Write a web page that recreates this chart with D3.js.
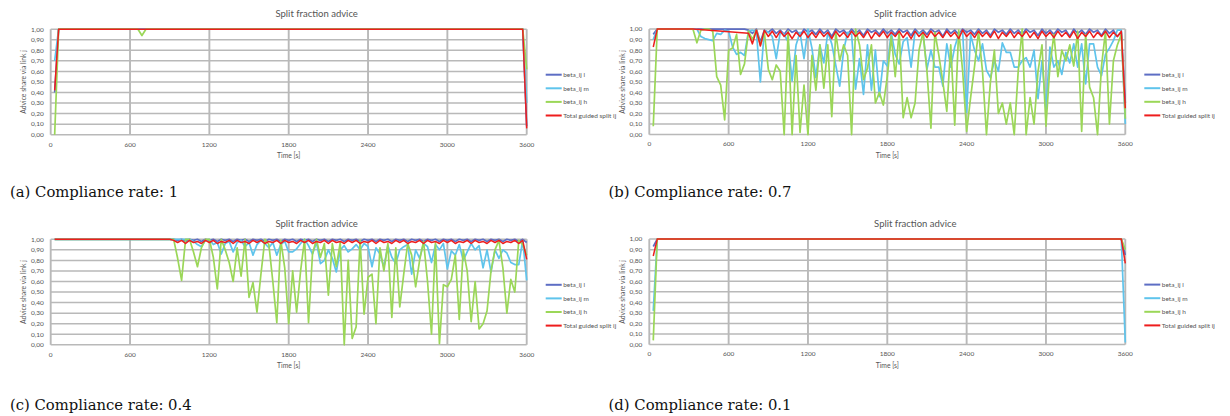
<!DOCTYPE html>
<html>
<head>
<meta charset="utf-8">
<script src="https://cdn.jsdelivr.net/npm/d3@7"></script>
<style>
  body { margin: 0; background: #fff; }
  svg { display: block; }
  .chart-text { font-family: Lato, "Liberation Sans", sans-serif; fill: #555; }
  .caption { font-family: "DejaVu Serif", serif; fill: #111; }
</style>
</head>
<body>
<svg id="fig" width="1230" height="416"></svg>
<script>
// axis ticks and labels
const X_TICKS = [0, 600, 1200, 1800, 2400, 3000, 3600];
const Y_TICKS = [0, 0.1, 0.2, 0.3, 0.4, 0.5, 0.6, 0.7, 0.8, 0.9, 1.0];
const SERIES_NAMES = ["beta_ij l", "beta_ij m", "beta_ij h", "Total guided split ij"];
const CAPTIONS = ["(a) Compliance rate: 1", "(b) Compliance rate: 0.7", "(c) Compliance rate: 0.4", "(d) Compliance rate: 0.1"];

// time stamps [s] of the 30 s simulation steps (panels b and c)
const TIME = [
  30, 60, 90, 120, 150, 180, 210, 240, 270, 300,
  330, 360, 390, 420, 450, 480, 510, 540, 570, 600,
  630, 660, 690, 720, 750, 780, 810, 840, 870, 900,
  930, 960, 990, 1020, 1050, 1080, 1110, 1140, 1170, 1200,
  1230, 1260, 1290, 1320, 1350, 1380, 1410, 1440, 1470, 1500,
  1530, 1560, 1590, 1620, 1650, 1680, 1710, 1740, 1770, 1800,
  1830, 1860, 1890, 1920, 1950, 1980, 2010, 2040, 2070, 2100,
  2130, 2160, 2190, 2220, 2250, 2280, 2310, 2340, 2370, 2400,
  2430, 2460, 2490, 2520, 2550, 2580, 2610, 2640, 2670, 2700,
  2730, 2760, 2790, 2820, 2850, 2880, 2910, 2940, 2970, 3000,
  3030, 3060, 3090, 3120, 3150, 3180, 3210, 3240, 3270, 3300,
  3330, 3360, 3390, 3420, 3450, 3480, 3510, 3540, 3570, 3600
];

// (a) compliance 1: only the points where something changes
const TIME_A = [30, 60, 660, 690, 720, 3570, 3600];
const L_A = [0.40, 1, 1, 1, 1, 1, 0.08];
const M_A = [0.70, 1, 1, 1, 1, 1, 0.30];
const H_A = [0.00, 1, 1, 0.94, 1, 1, 0.62];
const TOT_A = [0.42, 1, 1, 1, 1, 1, 0.06];

// (b) compliance 0.7
const L_B = [
  0.95, 1, 1, 1, 1, 1, 1, 1, 1, 1,
  1, 1, 1, 1, 1, 1, 1, 1, 1, 1,
  1, 1, 1, 1, 0.99, 0.96, 1.00, 0.88, 0.99, 0.97,
  1.00, 0.96, 0.99, 0.95, 1.00, 0.97, 0.99, 0.94, 1.00, 0.97,
  0.99, 0.95, 1.00, 0.96, 0.99, 0.93, 1.00, 0.97, 0.99, 0.95,
  1.00, 0.96, 0.99, 0.94, 1.00, 0.97, 0.99, 0.95, 1.00, 0.96,
  0.99, 0.95, 1.00, 0.97, 0.99, 0.94, 1.00, 0.96, 0.99, 0.95,
  1.00, 0.97, 0.99, 0.93, 1.00, 0.96, 0.99, 0.95, 1.00, 0.97,
  0.99, 0.95, 1.00, 0.96, 0.99, 0.94, 1.00, 0.97, 0.99, 0.95,
  1.00, 0.96, 0.99, 0.95, 1.00, 0.97, 0.99, 0.94, 1.00, 0.96,
  0.99, 0.95, 1.00, 0.97, 0.99, 0.93, 1.00, 0.96, 0.99, 0.95,
  1.00, 0.97, 0.99, 0.94, 1.00, 0.96, 0.99, 0.93, 0.97, 0.30
];
const M_B = [
  0.90, 1, 1, 1, 1, 1, 1, 1, 1, 1,
  1, 1, 0.93, 0.91, 0.90, 0.89, 0.96, 0.95, 0.99, 0.98,
  0.83, 0.76, 0.78, 0.75, 0.98, 0.99, 0.97, 0.50, 0.99, 0.97,
  0.93, 0.72, 0.97, 0.95, 0.88, 0.51, 0.85, 0.97, 0.72, 1.00,
  0.82, 0.54, 0.85, 0.68, 0.97, 0.86, 0.66, 0.46, 0.80, 0.97,
  0.95, 0.43, 0.72, 0.38, 0.85, 0.42, 0.80, 0.36, 0.70, 0.65,
  0.97, 0.76, 0.67, 0.88, 0.92, 0.64, 0.98, 0.96, 0.97, 0.62,
  0.80, 0.64, 0.64, 0.46, 0.86, 0.64, 0.83, 0.95, 0.98, 0.21,
  0.95, 0.80, 0.70, 0.86, 0.61, 0.54, 0.70, 0.60, 0.87, 0.78,
  0.78, 0.64, 0.64, 0.70, 0.73, 0.64, 0.80, 0.34, 0.70, 0.24,
  0.83, 0.64, 0.70, 0.57, 0.78, 0.68, 0.86, 0.64, 0.86, 0.48,
  0.86, 0.86, 0.64, 0.56, 0.76, 0.82, 0.89, 0.99, 0.99, 0.10
];
const H_B = [
  0.08, 1, 1, 1, 1, 1, 1, 1, 1, 1,
  1, 0.87, 0.99, 1, 1, 0.98, 0.55, 0.47, 0.14, 0.80,
  0.82, 0.95, 0.57, 0.67, 0.98, 0.90, 0.99, 0.85, 0.97, 0.62,
  0.52, 0.66, 0.60, 0.00, 0.98, 0.00, 0.75, 0.02, 0.47, 0.00,
  0.75, 0.42, 0.85, 0.44, 0.85, 0.17, 0.97, 0.70, 0.85, 0.75,
  0.00, 1.00, 0.85, 0.52, 0.63, 0.85, 0.30, 0.40, 0.28, 0.55,
  0.93, 0.55, 0.98, 0.16, 0.35, 0.16, 0.30, 0.80, 0.97, 0.60,
  0.06, 0.97, 0.75, 0.50, 0.22, 0.85, 0.09, 0.99, 0.60, 0.03,
  0.35, 0.65, 0.98, 0.60, 0.00, 0.50, 0.80, 0.20, 0.30, 0.10,
  0.30, 0.00, 0.60, 1.00, 0.00, 0.35, 0.10, 0.60, 0.85, 0.08,
  0.65, 0.95, 0.55, 0.80, 0.70, 0.85, 0.65, 0.98, 0.03, 0.95,
  0.45, 0.35, 0.00, 0.65, 0.98, 0.10, 0.70, 0.85, 0.95, 0.15
];
// null = no value logged, the line just connects across it
const TOT_B = [
  0.83, 1, 1, 1, 1, 1, 1, 1, 1, 1,
  1, null, null, null, null, null, null, null, null, null,
  null, null, null, null, 0.96, 0.86, 0.99, 0.84, 0.99, 0.93,
  0.98, 0.92, 0.98, 0.93, 0.97, 0.91, 0.97, 0.93, 0.98, 0.92,
  0.97, 0.92, 0.98, 0.93, 0.97, 0.91, 0.98, 0.93, 0.97, 0.92,
  0.98, 0.93, 0.97, 0.92, 0.98, 0.91, 0.97, 0.93, 0.98, 0.92,
  0.97, 0.93, 0.98, 0.92, 0.97, 0.91, 0.98, 0.93, 0.97, 0.92,
  0.98, 0.93, 0.97, 0.92, 0.98, 0.93, 0.97, 0.91, 0.99, 0.93,
  0.97, 0.92, 0.98, 0.93, 0.97, 0.92, 0.98, 0.91, 0.97, 0.93,
  0.98, 0.92, 0.97, 0.93, 0.98, 0.92, 0.97, 0.91, 0.98, 0.93,
  0.97, 0.92, 0.98, 0.93, 0.97, 0.92, 0.98, 0.91, 0.97, 0.93,
  0.98, 0.92, 0.97, 0.93, 0.98, 0.92, 0.97, 0.93, 0.98, 0.25
];

// (c) compliance 0.4
const L_C = [
  1, 1, 1, 1, 1, 1, 1, 1, 1, 1,
  1, 1, 1, 1, 1, 1, 1, 1, 1, 1,
  1, 1, 1, 1, 1, 1, 1, 1, 1, 1,
  1.00, 0.99, 1.00, 0.98, 1.00, 0.99, 1.00, 0.98, 1.00, 0.99,
  1.00, 0.98, 1.00, 0.99, 1.00, 0.98, 1.00, 0.99, 1.00, 0.98,
  1.00, 0.99, 1.00, 0.98, 1.00, 0.99, 1.00, 0.98, 1.00, 0.99,
  1.00, 0.98, 1.00, 0.99, 1.00, 0.98, 1.00, 0.99, 1.00, 0.98,
  1.00, 0.99, 1.00, 0.98, 1.00, 0.99, 1.00, 0.98, 1.00, 0.99,
  1.00, 0.98, 1.00, 0.99, 1.00, 0.98, 1.00, 0.99, 1.00, 0.98,
  1.00, 0.99, 1.00, 0.98, 1.00, 0.99, 1.00, 0.98, 1.00, 0.99,
  1.00, 0.98, 1.00, 0.99, 1.00, 0.98, 1.00, 0.99, 1.00, 0.98,
  1.00, 0.99, 1.00, 0.98, 1.00, 0.99, 1.00, 0.98, 1.00, 0.97
];
const M_C = [
  1, 1, 1, 1, 1, 1, 1, 1, 1, 1,
  1, 1, 1, 1, 1, 1, 1, 1, 1, 1,
  1, 1, 1, 1, 1, 1, 1, 1, 1, 1,
  1, 1, 1, 1, 1, 0.98, 0.95, 0.93, 0.99, 1.00,
  0.95, 0.97, 0.86, 0.96, 0.98, 0.88, 0.97, 0.99, 0.93, 0.97,
  0.85, 0.95, 0.99, 0.96, 0.92, 0.97, 0.85, 0.95, 0.98, 0.88,
  0.88, 0.91, 0.96, 1.00, 0.94, 0.86, 0.97, 0.77, 0.80, 0.90,
  0.82, 0.69, 0.90, 0.94, 0.88, 0.91, 0.95, 0.90, 0.96, 0.93,
  0.74, 0.92, 0.86, 0.74, 0.94, 0.83, 0.77, 0.90, 0.93, 0.95,
  0.67, 0.90, 0.82, 0.96, 0.93, 0.78, 0.95, 0.90, 0.96, 0.72,
  0.89, 0.85, 0.95, 0.80, 0.88, 0.96, 0.90, 0.94, 0.73, 0.90,
  0.69, 0.90, 0.82, 0.90, 0.87, 0.78, 0.76, 0.76, 0.99, 0.61
];
const H_C = [
  1, 1, 1, 1, 1, 1, 1, 1, 1, 1,
  1, 1, 1, 1, 1, 1, 1, 1, 1, 1,
  1, 1, 1, 1, 1, 1, 1, 1, 1, 1,
  1.00, 0.82, 0.61, 1.00, 1.00, 0.88, 0.74, 0.92, 1.00, 1.00,
  0.83, 0.53, 1.00, 0.90, 0.78, 0.60, 0.92, 0.65, 1.00, 0.45,
  0.59, 0.31, 0.67, 1.00, 0.95, 0.60, 0.21, 0.99, 0.73, 0.20,
  0.70, 0.31, 0.70, 1.00, 0.21, 0.86, 1.00, 0.83, 0.96, 0.47,
  0.96, 0.74, 0.97, 0.00, 0.80, 0.06, 0.17, 0.99, 0.29, 0.64,
  0.67, 0.20, 0.92, 0.70, 0.96, 0.26, 0.92, 0.36, 0.67, 0.96,
  0.85, 0.55, 0.80, 0.98, 0.60, 0.10, 0.97, 0.01, 0.57, 0.55,
  0.62, 0.85, 0.24, 0.90, 0.70, 0.22, 0.60, 0.15, 0.20, 0.32,
  0.70, 0.90, 0.99, 0.73, 0.30, 0.62, 0.50, 0.99, 0.95, 0.85
];
const TOT_C = [
  1, 1, 1, 1, 1, 1, 1, 1, 1, 1,
  1, 1, 1, 1, 1, 1, 1, 1, 1, 1,
  1, 1, 1, 1, 1, 1, 1, 1, 1, 1,
  0.99, 0.97, 0.99, 0.96, 0.99, 0.97, 0.98, 0.96, 0.99, 0.97,
  0.99, 0.96, 0.98, 0.97, 0.99, 0.96, 0.99, 0.97, 0.98, 0.96,
  0.99, 0.97, 0.99, 0.96, 0.98, 0.97, 0.99, 0.96, 0.99, 0.97,
  0.98, 0.96, 0.99, 0.97, 0.99, 0.96, 0.98, 0.97, 0.99, 0.96,
  0.99, 0.97, 0.98, 0.96, 0.99, 0.97, 0.99, 0.96, 0.98, 0.97,
  0.99, 0.96, 0.99, 0.97, 0.98, 0.96, 0.99, 0.97, 0.99, 0.96,
  0.98, 0.97, 0.99, 0.96, 0.99, 0.97, 0.98, 0.96, 0.99, 0.97,
  0.99, 0.96, 0.98, 0.97, 0.99, 0.96, 0.99, 0.97, 0.98, 0.96,
  0.99, 0.97, 0.99, 0.96, 0.98, 0.97, 0.99, 0.96, 0.99, 0.81
];

// (d) compliance 0.1: flat apart from the first and last step
const TIME_D = [30, 60, 3570, 3600];
const L_D = [0.93, 1, 1, 0.85];
const M_D = [0.32, 1, 1, 0.02];
const H_D = [0.04, 1, 1, 0.90];
const TOT_D = [0.84, 1, 1, 0.77];

const COLORS = ["#5d6ec4", "#5fc4ec", "#9bd758", "#ee1d1d"];

const PLOT_W = 476;
const PLOT_H = 105.5;

const panels = [
  { px: 50.7, py: 29.2, capY: 197, time: TIME_A, series: [L_A, M_A, H_A, TOT_A] },
  { px: 649.3, py: 29.1, capY: 197, time: TIME, series: [L_B, M_B, H_B, TOT_B] },
  { px: 50.7, py: 239.3, capY: 410, time: TIME, series: [L_C, M_C, H_C, TOT_C] },
  { px: 649.3, py: 239.1, capY: 410, time: TIME_D, series: [L_D, M_D, H_D, TOT_D] },
];

const svg = d3.select("#fig");
const fmtY = (d) => d3.format(".2f")(d).replace(".", ",");

panels.forEach((p, k) => drawPanel(p, k));

function drawPanel(p, k) {
  const x = d3.scaleLinear().domain([0, 3600]).range([p.px, p.px + PLOT_W]);
  const y = d3.scaleLinear().domain([0, 1]).range([p.py + PLOT_H, p.py]);
  const g = svg.append("g");

  // gridlines
  g.append("g")
    .selectAll("line")
    .data(Y_TICKS)
    .join("line")
    .attr("x1", p.px).attr("x2", p.px + PLOT_W)
    .attr("y1", (d) => y(d)).attr("y2", (d) => y(d))
    .attr("stroke", "#b9b9b9").attr("stroke-width", 1.5);
  g.append("g")
    .selectAll("line")
    .data(X_TICKS)
    .join("line")
    .attr("x1", (d) => x(d)).attr("x2", (d) => x(d))
    .attr("y1", p.py).attr("y2", p.py + PLOT_H)
    .attr("stroke", "#b9b9b9").attr("stroke-width", 1.9);

  // tick labels
  g.append("g")
    .selectAll("text")
    .data(Y_TICKS)
    .join("text")
    .attr("class", "chart-text")
    .attr("x", p.px - 7)
    .attr("y", (d) => y(d) + 2.3)
    .attr("text-anchor", "end")
    .attr("font-size", 6.5)
    .text(fmtY);
  g.append("g")
    .selectAll("text")
    .data(X_TICKS)
    .join("text")
    .attr("class", "chart-text")
    .attr("x", (d) => x(d))
    .attr("y", p.py + PLOT_H + 11.8)
    .attr("text-anchor", "middle")
    .attr("font-size", 6.5)
    .text((d) => d);

  // titles
  g.append("text")
    .attr("class", "chart-text")
    .attr("x", p.px + 266)
    .attr("y", p.py - 12.5)
    .attr("text-anchor", "middle")
    .attr("font-size", 9.5)
    .text("Split fraction advice");
  g.append("text")
    .attr("class", "chart-text")
    .attr("x", x(1800))
    .attr("y", p.py + PLOT_H + 23)
    .attr("text-anchor", "middle")
    .attr("font-size", 6.8)
    .text("Time [s]");
  g.append("text")
    .attr("class", "chart-text")
    .attr("transform", `translate(${p.px - 24.5},${p.py + PLOT_H / 2}) rotate(-90)`)
    .attr("text-anchor", "middle")
    .attr("font-size", 6.8)
    .text("Advice share via link j");

  // series lines
  const line = d3.line().x((d) => x(d[0])).y((d) => y(d[1]));
  p.series.forEach((vals, s) => {
    const pts = p.time.map((t, i) => [t, vals[i]]).filter((d) => d[1] != null);
    g.append("path")
      .datum(pts)
      .attr("d", line)
      .attr("fill", "none")
      .attr("stroke", COLORS[s])
      .attr("stroke-width", s === 3 ? 1.5 : 1.7)
      .attr("stroke-linejoin", "round");
  });

  // legend
  const lg = g.append("g");
  SERIES_NAMES.forEach((name, s) => {
    const ly = p.py + 45.5 + s * 13.6;
    lg.append("line")
      .attr("x1", p.px + 495).attr("x2", p.px + 511)
      .attr("y1", ly).attr("y2", ly)
      .attr("stroke", COLORS[s]).attr("stroke-width", 2);
    lg.append("text")
      .attr("class", "chart-text")
      .attr("x", p.px + 512.5)
      .attr("y", ly + 2.3)
      .attr("font-size", 6.5)
      .text(name);
  });

  // caption
  svg.append("text")
    .attr("class", "caption")
    .attr("x", p.px - 40.7)
    .attr("y", p.capY)
    .attr("font-size", 14.8)
    .text(CAPTIONS[k]);
}
</script>
</body>
</html>
